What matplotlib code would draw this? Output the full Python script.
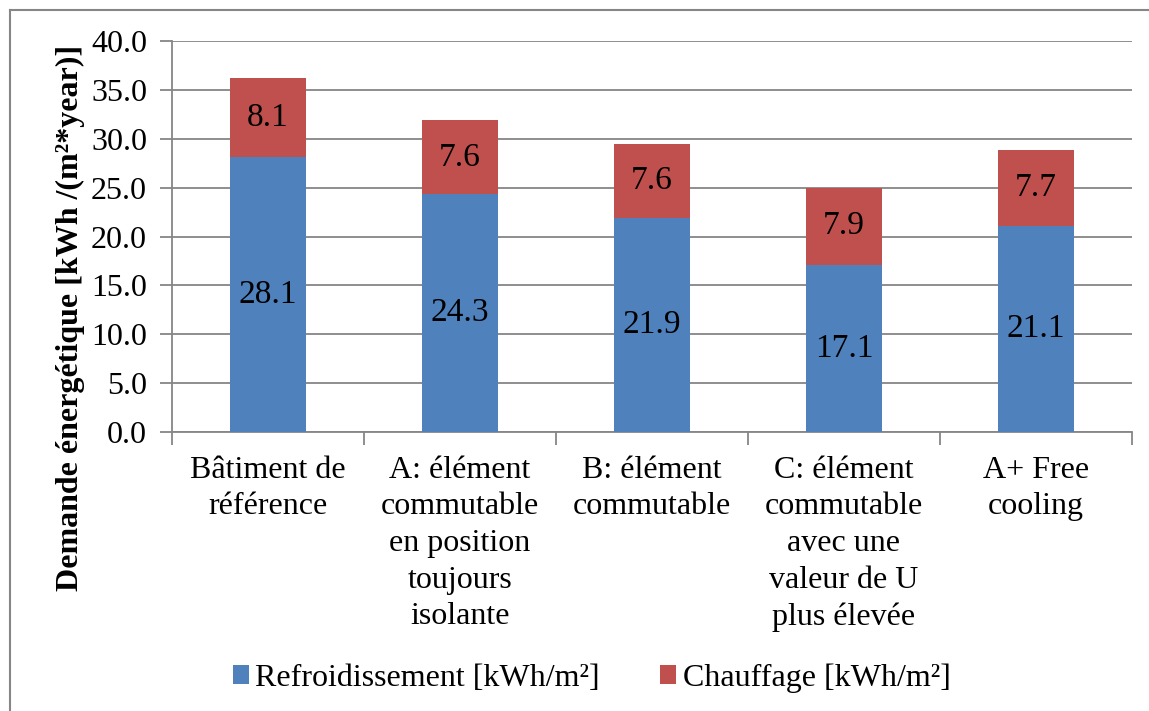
import matplotlib
matplotlib.use("Agg")
import matplotlib.pyplot as plt
from matplotlib.patches import Patch
from matplotlib.lines import Line2D
import numpy as np

categories = [
    "Bâtiment de\nréférence",
    "A: élément\ncommutable\nen position\ntoujours\nisolante",
    "B: élément\ncommutable",
    "C: élément\ncommutable\navec une\nvaleur de U\nplus élevée",
    "A+ Free\ncooling",
]
refroidissement = [28.1, 24.3, 21.9, 17.1, 21.1]
chauffage = [8.1, 7.6, 7.6, 7.9, 7.7]
series_labels = ["Refroidissement [kWh/m²]", "Chauffage [kWh/m²]"]
y_ticks = [0, 5, 10, 15, 20, 25, 30, 35, 40]

BLUE = "#4F81BD"
RED = "#C0504D"
GRID = "#868686"
FS = 23

plt.rcParams["font.family"] = ["Liberation Serif", "DejaVu Serif"]

fig = plt.figure(figsize=(11.49, 7.11), dpi=100)
ax = fig.add_axes([172 / 1149, 1 - 432 / 711, 960 / 1149, 391 / 711])

x = np.arange(len(categories))
width = 0.4
b1 = ax.bar(x, refroidissement, width, color=BLUE, zorder=3)
b2 = ax.bar(x, chauffage, width, bottom=refroidissement, color=RED, zorder=3)

for rect, v in zip(b1, refroidissement):
    ax.text(rect.get_x() + rect.get_width() / 2, rect.get_y() + v / 2, f"{v:.1f}",
            ha="center", va="center", fontsize=24, color="black", zorder=4)
for rect, v, base in zip(b2, chauffage, refroidissement):
    ax.text(rect.get_x() + rect.get_width() / 2, base + v / 2, f"{v:.1f}",
            ha="center", va="center", fontsize=24, color="black", zorder=4)

ax.set_xlim(-0.5, len(categories) - 0.5)
ax.set_ylim(0, 40)
ax.set_yticks(y_ticks)
ax.set_yticklabels([f"{t:.1f}" for t in y_ticks], fontsize=FS)
ax.yaxis.grid(True, color=GRID, linewidth=1.3, zorder=0)
ax.set_axisbelow(True)

# category labels centred under bars, ticks placed on the boundaries
ax.set_xticks(np.arange(len(categories) + 1) - 0.5)
ax.set_xticklabels([])
ax.set_xticks(x, minor=True)
ax.set_xticklabels(categories, minor=True, fontsize=FS, linespacing=1.35, va="top")
ax.tick_params(axis="x", which="minor", length=0, pad=17)
ax.tick_params(axis="x", which="major", length=9, width=1.3, color=GRID, direction="out")
ax.tick_params(axis="y", length=9, width=1.3, color=GRID, direction="out", pad=9)

for side in ("top", "right"):
    ax.spines[side].set_visible(False)
for side in ("left", "bottom"):
    ax.spines[side].set_color(GRID)
    ax.spines[side].set_linewidth(1.3)

fig.text(70 / 1149, 1 - 318 / 711, "Demande énergétique [kWh /(m²*year)]",
         rotation=90, ha="center", va="center", fontsize=FS, fontweight="bold")

handles = [Patch(facecolor=BLUE), Patch(facecolor=RED)]
fig.legend(handles, series_labels, loc="center", bbox_to_anchor=(0.515, 1 - 678 / 711),
           ncol=2, frameon=False, fontsize=FS, handlelength=0.5, handleheight=0.5,
           handletextpad=0.2, columnspacing=1.9)

# chart frame
fig.add_artist(Line2D([10 / 1149, 10 / 1149], [0, 1 - 10 / 711], transform=fig.transFigure,
                      color=GRID, linewidth=1.5))
fig.add_artist(Line2D([10 / 1149, 1], [1 - 10 / 711, 1 - 10 / 711], transform=fig.transFigure,
                      color=GRID, linewidth=1.5))

fig.savefig("out.png", dpi=100)
